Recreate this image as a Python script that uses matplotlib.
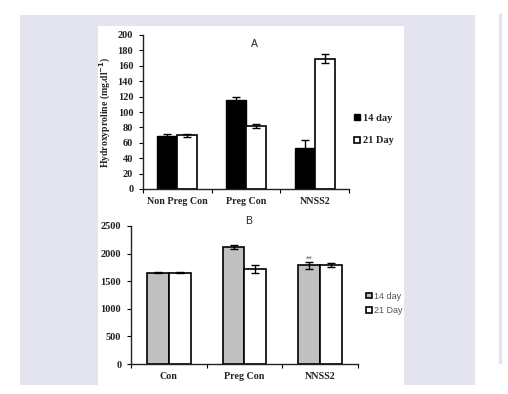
import matplotlib
matplotlib.use("Agg")
import matplotlib.pyplot as plt
from matplotlib.patches import Rectangle
from matplotlib.lines import Line2D
import numpy as np

# Panel A data
cats_a = ["Non Preg Con", "Preg Con", "NNSS2"]
a_14 = [69, 115, 53]
a_14_err = [2, 5, 10]
a_21 = [70, 82, 169]
a_21_err = [2, 3, 6]
a_yticks = [0, 20, 40, 60, 80, 100, 120, 140, 160, 180, 200]

# Panel B data
cats_b = ["Con", "Preg Con", "NNSS2"]
b_14 = [1650, 2120, 1790]
b_14_err = [10, 30, 60]
b_21 = [1650, 1720, 1790]
b_21_err = [10, 80, 40]
b_yticks = [0, 500, 1000, 1500, 2000, 2500]

series_names = ["14 day", "21 Day"]

W, H = 508, 394
fig = plt.figure(figsize=(W / 100, H / 100), dpi=100)
fig.patch.set_facecolor("white")

def px(x0, y0, x1, y1):
    return [x0 / W, 1 - y1 / H, (x1 - x0) / W, (y1 - y0) / H]

lav = "#e4e4f0"
fig.add_artist(Rectangle((20 / W, 1 - 385 / H), (475 - 20) / W, (385 - 15) / H,
                         transform=fig.transFigure, facecolor=lav, edgecolor="none", zorder=0))
fig.add_artist(Rectangle((98 / W, 1 - 385 / H), (404 - 98) / W, (385 - 26) / H,
                         transform=fig.transFigure, facecolor="white", edgecolor="none", zorder=0))
fig.add_artist(Line2D([500 / W, 500 / W], [1 - 15 / H, 1 - 362 / H],
                      transform=fig.transFigure, color=lav, lw=2.5, zorder=0))

serif = ["Liberation Serif", "DejaVu Serif"]
sans = ["Liberation Sans", "DejaVu Sans"]

def style_axes(ax, cats, yticks, ymax, fs_tick):
    ax.set_facecolor("none")
    for s in ["top", "right"]:
        ax.spines[s].set_visible(False)
    for s in ["left", "bottom"]:
        ax.spines[s].set_linewidth(1.0)
        ax.spines[s].set_color("#222222")
    ax.set_xlim(-0.5, 2.5)
    ax.set_ylim(0, ymax)
    ax.set_yticks(yticks)
    ax.set_yticklabels([str(t) for t in yticks], fontfamily=serif, fontweight="bold",
                       fontsize=fs_tick, color="#222222")
    ax.tick_params(axis="y", direction="out", length=3, width=0.8, pad=4)
    ax.set_xticks([-0.5, 0.5, 1.5, 2.5])
    ax.set_xticklabels([])
    ax.tick_params(axis="x", direction="out", length=3, width=0.8)
    ax.set_xticks([0, 1, 2], minor=True)
    ax.set_xticklabels(cats, minor=True, fontfamily=serif, fontweight="bold",
                       fontsize=7.2, color="#222222")
    ax.tick_params(axis="x", which="minor", length=0, pad=6)

x = np.arange(3)
bw = 0.29

# Panel A
axA = fig.add_axes(px(143, 35, 349, 189))
axA.bar(x - bw / 2, a_14, bw, color="black", edgecolor="black", lw=1.0, zorder=2,
        label=series_names[0])
axA.bar(x + bw / 2, a_21, bw, color="white", edgecolor="black", lw=1.2, zorder=2,
        label=series_names[1])
axA.errorbar(x - bw / 2, a_14, yerr=a_14_err, fmt="none", ecolor="black", elinewidth=1,
             capsize=3, capthick=1, zorder=3)
axA.errorbar(x + bw / 2, a_21, yerr=a_21_err, fmt="none", ecolor="black", elinewidth=1,
             capsize=3, capthick=1, zorder=3)
style_axes(axA, cats_a, a_yticks, 200, 7.5)
axA.set_ylabel("Hydroxyproline (mg.dl$^{\\mathbf{-1}}$)", fontfamily=serif, fontweight="bold",
               fontsize=7, color="#222222", labelpad=3)
axA.text(0.54, 0.94, "A", transform=axA.transAxes, ha="center", va="center",
         fontfamily=sans, fontsize=7.5, color="#222222")
legA = axA.legend(loc="center left", bbox_to_anchor=(0.98, 0.385), frameon=False,
                  handlelength=0.55, handleheight=0.55, handletextpad=0.3,
                  labelspacing=1.3,
                  prop={"family": serif, "weight": "bold", "size": 7.5})
for t in legA.get_texts():
    t.set_color("#222222")

# Panel B
axB = fig.add_axes(px(131, 226, 358, 364))
axB.bar(x - bw / 2, b_14, bw, color="#c0c0c0", edgecolor="black", lw=1.2, zorder=2,
        label=series_names[0])
axB.bar(x + bw / 2, b_21, bw, color="white", edgecolor="black", lw=1.2, zorder=2,
        label=series_names[1])
axB.errorbar(x - bw / 2, b_14, yerr=b_14_err, fmt="none", ecolor="black", elinewidth=1,
             capsize=3, capthick=1, zorder=3)
axB.errorbar(x + bw / 2, b_21, yerr=b_21_err, fmt="none", ecolor="black", elinewidth=1,
             capsize=3, capthick=1, zorder=3)
style_axes(axB, cats_b, b_yticks, 2500, 7.5)
axB.text(2 - bw / 2, b_14[2] + b_14_err[2] + 5, "**", ha="center", va="bottom",
         fontsize=5, color="#444444")
axB.text(0.52, 1.035, "B", transform=axB.transAxes, ha="center", va="center",
         fontfamily=sans, fontsize=7.5, color="#222222")
legB = axB.legend(loc="center left", bbox_to_anchor=(1.0, 0.44), frameon=False,
                  handlelength=0.6, handleheight=0.6, handletextpad=0.3,
                  labelspacing=0.6,
                  prop={"family": sans, "size": 6.5})
for t in legB.get_texts():
    t.set_color("#555555")

fig.savefig("out.png", dpi=100, facecolor="white")
